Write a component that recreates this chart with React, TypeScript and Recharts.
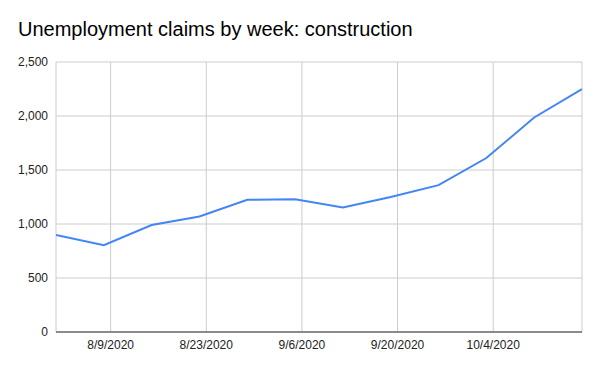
import { LineChart, Line, XAxis, YAxis, CartesianGrid } from "recharts";

// week-ending dates (Saturdays) and claims
const weeks = [
  "2020-08-01", "2020-08-08", "2020-08-15", "2020-08-22", "2020-08-29", "2020-09-05",
  "2020-09-12", "2020-09-19", "2020-09-26", "2020-10-03", "2020-10-10", "2020-10-17"
];
const claims = [898, 803, 991, 1069, 1224, 1230, 1152, 1250, 1360, 1611, 1986, 2249];
const xTicks = ["2020-08-09", "2020-08-23", "2020-09-06", "2020-09-20", "2020-10-04"];
const yTicks = [0, 500, 1000, 1500, 2000, 2500];

const toMs = (s: string) => {
  const [y, m, d] = s.split("-").map(Number);
  return Date.UTC(y, m - 1, d);
};
const fmtDate = (ms: number) => {
  const d = new Date(ms);
  return `${d.getUTCMonth() + 1}/${d.getUTCDate()}/${d.getUTCFullYear()}`;
};

const data = weeks.map((w, i) => ({ t: toMs(w), claims: claims[i] }));
const domain = [toMs(weeks[0]), toMs(weeks[weeks.length - 1])];

const font = "'Liberation Sans', Arial, sans-serif";

export default function App() {
  return (
    <div
      style={{
        position: "absolute",
        top: 0,
        left: 0,
        width: 600,
        height: 371,
        background: "#fff",
        fontFamily: font
      }}
    >
      <div
        style={{
          position: "absolute",
          left: 18,
          top: 18,
          fontSize: 20,
          color: "#000",
          whiteSpace: "nowrap"
        }}
      >
        Unemployment claims by week: construction
      </div>
      <LineChart
        width={600}
        height={371}
        data={data}
        margin={{ top: 62, right: 18, left: 8, bottom: 9 }}
        style={{ fontFamily: font }}
      >
        <CartesianGrid stroke="#cccccc" />
        <XAxis
          dataKey="t"
          type="number"
          scale="time"
          domain={domain}
          ticks={xTicks.map(toMs)}
          tickFormatter={fmtDate}
          tickLine={false}
          axisLine={{ stroke: "#333333" }}
          tick={{ fill: "#222222", fontSize: 12 }}
          height={30}
          allowDataOverflow
        />
        <YAxis
          width={48}
          domain={[0, 2500]}
          ticks={yTicks}
          tickFormatter={(v: number) => v.toLocaleString("en-US")}
          tickLine={false}
          axisLine={false}
          tick={{ fill: "#222222", fontSize: 12 }}
        />
        <Line
          type="linear"
          dataKey="claims"
          stroke="#4285f4"
          strokeWidth={2}
          dot={false}
          isAnimationActive={false}
        />
      </LineChart>
    </div>
  );
}
